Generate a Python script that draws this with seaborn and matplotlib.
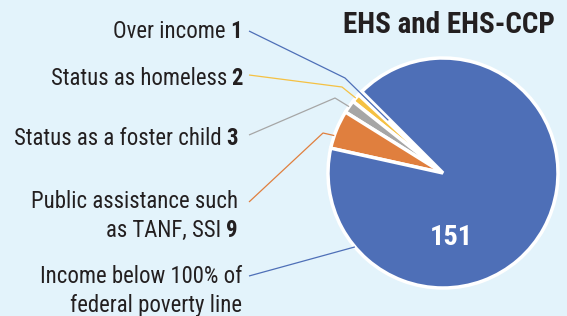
import matplotlib
matplotlib.use("Agg")
import matplotlib.pyplot as plt
import seaborn as sns
import numpy as np

# data
categories = ["Over income", "Status as homeless", "Status as a foster child",
              "Public assistance such\nas TANF, SSI",
              "Income below 100% of\nfederal poverty line"]
values = [1, 2, 3, 9, 151]
colors = ["#4e6fb7", "#f5c143", "#a6a6a6", "#e07f3e", "#4e6fb7"]
title = "EHS and EHS-CCP"

sns.set_theme(style="white")
plt.rcParams["font.family"] = ["Roboto Condensed", "Liberation Sans Narrow",
                               "Roboto", "DejaVu Sans"]

W, H = 567, 316
bg = "#e3f3fb"
ink = "#231f20"
fig = plt.figure(figsize=(W / 100, H / 100), dpi=100, facecolor=bg)
ax = fig.add_axes([0, 0, 1, 1])
ax.set_facecolor(bg)
renderer = fig.canvas.get_renderer()


def fit(s, target, weight="normal", base=20):
    t = fig.text(0, 0, s, fontsize=base, fontweight=weight)
    w = t.get_window_extent(renderer).width
    t.remove()
    return base * target / w


# pie geometry in pixels
cx, cy, R = 443, 173, 115


def px(x, y):
    return (x - cx) / R, (cy - y) / R


wedges, _ = ax.pie(values, colors=colors, startangle=135, counterclock=True,
                   wedgeprops=dict(edgecolor="white", linewidth=2.5))
ax.set_xlim(-cx / R, (W - cx) / R)
ax.set_ylim(-(H - cy) / R, cy / R)
ax.set_aspect("equal")
ax.axis("off")

fs = min(fit("Status as a foster child 3", 223), 18)
fs_title = min(fit(title, 215, "bold"), 21)
fs_big = min(fit("151", 43, "bold"), 26)

# label layout: right edge x, baselines, elbow, anchor (angle, radius)
layout = [
    dict(x=242, ys=[38], start=(249, 31), elbow=(345, 78), r=0.66, ang=None),
    dict(x=243, ys=[85], start=(249, 75), elbow=(342, 87), r=1.0, ang=None),
    dict(x=238, ys=[145], start=(249, 135), elbow=(335, 98), r=1.0, ang=None),
    dict(x=238, ys=[208, 237], start=(249, 202), elbow=(323, 133), r=1.0, ang=161),
    dict(x=242, ys=[283, 312], start=(249, 276), elbow=None, r=1.0, ang=220),
]
for i, (cat, val, w, lay) in enumerate(zip(categories, values, wedges, layout)):
    lines = cat.split("\n")
    for j, (line, yb) in enumerate(zip(lines, lay["ys"])):
        X, Y = px(lay["x"], yb)
        last = j == len(lines) - 1
        if last and i < 4:
            t = ax.text(X, Y, str(val), ha="right", va="baseline",
                        fontsize=fs, fontweight="bold", color=ink)
            ax.annotate(line, xy=(0, 0), xycoords=t, xytext=(-3.5, 0),
                        textcoords="offset points", ha="right", va="bottom",
                        fontsize=fs, color=ink)
        else:
            ax.text(X, Y, line, ha="right", va="baseline", fontsize=fs, color=ink)
    ang = lay["ang"] if lay["ang"] is not None else (w.theta1 + w.theta2) / 2
    ex, ey = lay["r"] * np.cos(np.radians(ang)), lay["r"] * np.sin(np.radians(ang))
    pts = [px(*lay["start"])]
    if lay["elbow"]:
        pts.append(px(*lay["elbow"]))
    pts.append((ex, ey))
    pts = np.array(pts)
    ax.plot(pts[:, 0], pts[:, 1], color=colors[i], lw=0.9, solid_capstyle="butt")

tx, ty = px(555, 33)
ax.text(tx, ty, title, ha="right", va="baseline", fontsize=fs_title,
        fontweight="bold", color=ink)
vx, vy = px(451, 245)
ax.text(vx, vy, str(values[-1]), ha="center", va="baseline", fontsize=fs_big,
        fontweight="bold", color="white")

fig.savefig("out.png", dpi=100, facecolor=bg)
